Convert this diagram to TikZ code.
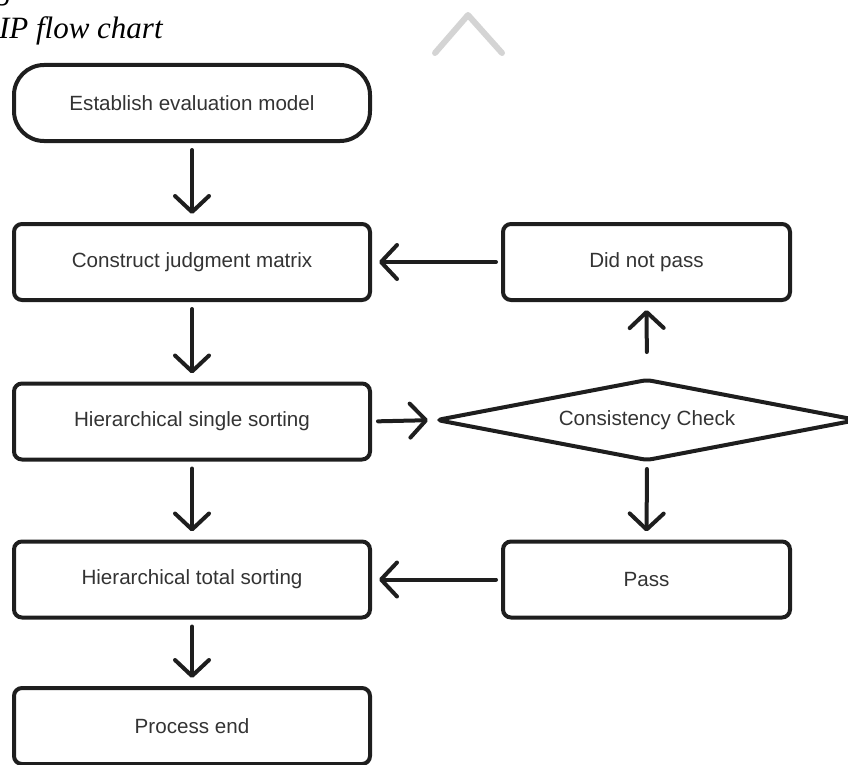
\documentclass[tikz,border=0pt]{standalone}
\usepackage{fontspec}
\setmainfont{Liberation Serif}
\newfontfamily\boxfont{Liberation Sans}
\usetikzlibrary{arrows.meta,shapes.geometric}
\definecolor{ink}{HTML}{1E1E1E}
\definecolor{label}{HTML}{333333}
\definecolor{faint}{HTML}{D4D4D4}
\begin{document}
\begin{tikzpicture}[x=1pt,y=-1pt,
  every node/.style={inner sep=0pt, outer sep=0pt},
  stepbox/.style={draw=ink, line width=4pt, rounded corners=8pt,
    minimum width=356pt, minimum height=76pt,
    font=\boxfont\fontsize{20.6}{24}\selectfont, text=label},
  sidebox/.style={stepbox, minimum width=287pt},
  startbox/.style={stepbox, rounded corners=30pt},
  checkbox/.style={draw=ink, line width=4pt, shape=diamond, aspect=5.25,
    minimum width=420pt, minimum height=80pt, rounded corners=5pt,
    font=\boxfont\fontsize{20.6}{24}\selectfont, text=label},
  flow/.style={draw=ink, line width=4pt, line cap=round,
    -{Straight Barb[length=16pt,width=34pt,round]}},
  captext/.style={font=\itshape\fontsize{31}{35}\selectfont}
]
\useasboundingbox (0,0) rectangle (848,765);

% caption fragment
\node[anchor=base west, captext] (capA) at (-3,0) {g};
\node[anchor=base west, captext] (capB) at (-1,39) {IP flow chart};

% faint chevron mark
\draw[faint, line width=6pt, line cap=round, line join=round]
  (435,53) -- (468,15) -- (502,53);

% left column
\node[startbox] (est) at (192,103) {Establish evaluation model};
\node[stepbox] (con) at (192,262) {Construct judgment matrix};
\node[stepbox] (hss) at (192,421.5) {Hierarchical single sorting};
\node[stepbox] (hts) at (192,579.5) {Hierarchical total sorting};
\node[stepbox] (end) at (192,726) {Process end};

% right column
\node[sidebox] (dnp) at (646.5,262) {Did not pass};
\node[checkbox] (chk) at (647,420) {Consistency Check};
\node[sidebox] (pas) at (646.5,579.5) {Pass};

% connectors
\draw[flow, shorten <=9pt, shorten >=10pt] (est.south) -- (con.north);
\draw[flow, shorten <=9pt, shorten >=10pt] (con.south) -- (hss.north);
\draw[flow, shorten <=9pt, shorten >=10pt] (hss.south) -- (hts.north);
\draw[flow, shorten <=9pt, shorten >=10pt] (hts.south) -- (end.north);
\draw[flow, shorten <=8pt, shorten >=9pt] (hss.east) -- (chk.west);
\draw[flow, shorten <=28pt, shorten >=10pt] (chk.north) -- (dnp.south);
\draw[flow, shorten <=9pt, shorten >=10pt] (chk.south) -- (pas.north);
\draw[flow, shorten <=7pt, shorten >=9pt] (dnp.west) -- (con.east);
\draw[flow, shorten <=7pt, shorten >=9pt] (pas.west) -- (hts.east);
\end{tikzpicture}
\end{document}
